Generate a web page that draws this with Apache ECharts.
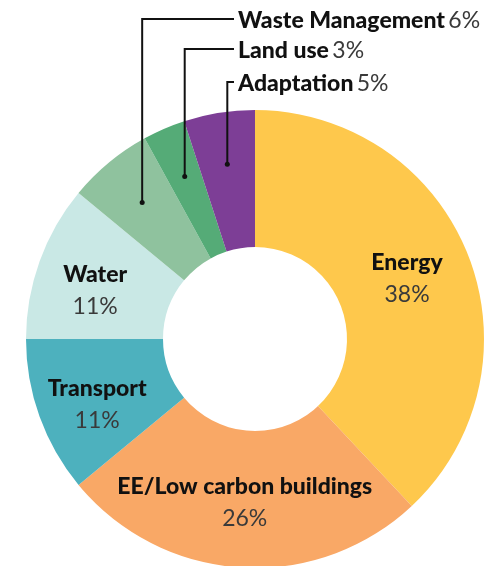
<!DOCTYPE html>
<html>
<head>
<meta charset="utf-8">
<script src="https://cdn.jsdelivr.net/npm/echarts@6/dist/echarts.min.js"></script>
<style>
  html, body { margin: 0; padding: 0; background: #fff; }
  #main { width: 496px; height: 566px; }
</style>
</head>
<body>
<div id="main"></div>
<script>
// data
var categories = ['Energy', 'EE/Low carbon buildings', 'Transport', 'Water', 'Waste Management', 'Land use', 'Adaptation'];
var shares = [38, 26, 11, 11, 6, 3, 5];
var sliceColors = ['#FEC84C', '#F9A866', '#4DB1BE', '#C9E8E5', '#8FC29E', '#55AB77', '#7D3E96'];
// small slices get a callout at the top
var calloutNames = ['Waste Management', 'Land use', 'Adaptation'];

// layout
var cx = 255, cy = 339, r0 = 92, r1 = 229;
var dotR = 177;
var textLeft = 238;
var rowY = [21, 51, 84];
var FONT = 'Lato, "Open Sans", sans-serif';

var total = shares.reduce(function (a, b) { return a + b; }, 0);

// mid angle of each slice (clockwise from top) -> point at dotR
function midPoint(i) {
  var before = 0;
  for (var k = 0; k < i; k++) before += shares[k];
  var a = (before + shares[i] / 2) / total * Math.PI * 2;
  return [cx + dotR * Math.sin(a), cy - dotR * Math.cos(a)];
}

var labelOffsets = { 'Transport': [-4, 10], 'Water': [-6, 7] };

var data = categories.map(function (name, i) {
  var item = { name: name, value: shares[i], itemStyle: { color: sliceColors[i] } };
  if (calloutNames.indexOf(name) >= 0) {
    item.label = {
      position: 'outside',
      formatter: '{n|{b}} {v|{c}%}',
      rich: {
        n: { fontFamily: FONT, fontWeight: 900, fontSize: 23, color: '#111' },
        v: { fontFamily: FONT, fontSize: 23, color: '#3a3a3a' }
      }
    };
  } else if (labelOffsets[name]) {
    item.label = { offset: labelOffsets[name] };
  }
  return item;
});

// leader lines + dots for the callouts
var callouts = [];
calloutNames.forEach(function (name, k) {
  var p = midPoint(categories.indexOf(name));
  var ly = rowY[k] - 2;
  callouts.push({
    type: 'polyline',
    shape: { points: [[p[0], p[1]], [p[0], ly], [textLeft - 4, ly]] },
    style: { stroke: '#111', lineWidth: 2, fill: null },
    z: 100
  });
  callouts.push({
    type: 'circle',
    shape: { cx: p[0], cy: p[1], r: 2.5 },
    style: { fill: '#111' },
    z: 100
  });
});

var myChart = echarts.init(document.getElementById('main'));
var option = {
  backgroundColor: '#fff',
  animation: false,
  graphic: callouts,
  series: [{
    type: 'pie',
    center: [cx, cy],
    radius: [r0, r1],
    startAngle: 90,
    clockwise: true,
    avoidLabelOverlap: false,
    itemStyle: { borderWidth: 0 },
    label: {
      show: true,
      position: 'inside',
      formatter: '{n|{b}}\n{v|{c}%}',
      rich: {
        n: { fontFamily: FONT, fontWeight: 900, fontSize: 23, color: '#111', lineHeight: 32 },
        v: { fontFamily: FONT, fontSize: 23, color: '#3a3a3a', lineHeight: 32 }
      }
    },
    labelLine: { show: false },
    labelLayout: function (params) {
      var k = calloutNames.indexOf(categories[params.dataIndex]);
      if (k < 0) return {};
      return {
        x: textLeft,
        y: rowY[k],
        align: 'left',
        verticalAlign: 'middle'
      };
    },
    data: data
  }]
};
myChart.setOption(option);
</script>
</body>
</html>
